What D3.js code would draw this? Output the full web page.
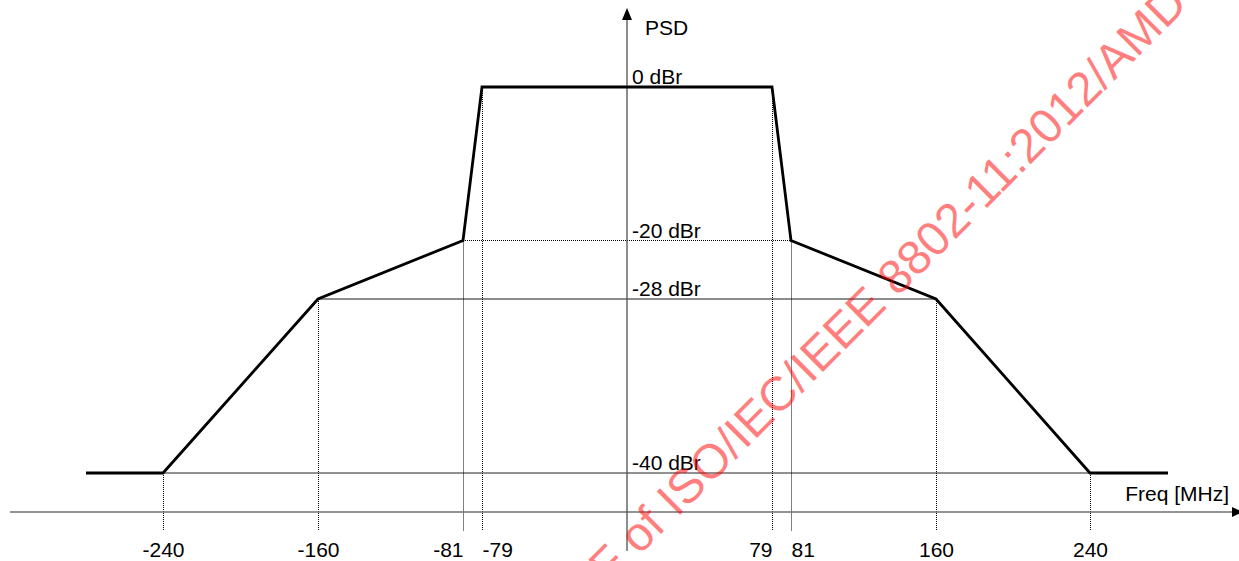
<!DOCTYPE html>
<html>
<head>
<meta charset="utf-8">
<script src="https://cdn.jsdelivr.net/npm/d3@7"></script>
<style>
    body { margin: 0; background: #fff; }
    text { font-family: "Liberation Sans", Arial, sans-serif; font-size: 21px; fill: #000; }
</style>
</head>
<body>
<div class="chart"></div>
<script>
// spectral mask corner points
const maskFreqs = [-280, -240, -160, -81, -79, 79, 81, 160, 240, 280]
const maskLevels = [-40, -40, -28, -20, 0, 0, -20, -28, -40, -40]
const freqTicks = [-240, -160, -81, -79, 79, 81, 160, 240]
const levelTicks = [0, -20, -28, -40]
const levelLabels = ["0 dBr", "-20 dBr", "-28 dBr", "-40 dBr"]

const width = 1239,
    height = 561

const svg = d3.select(".chart")
    .append("svg")
    .attr("width", width)
    .attr("height", height)

// drawing is schematic, so both scales are piecewise
const x = d3.scaleLinear()
    .domain([-280, -240, -160, -81, -79, 0, 79, 81, 160, 240, 280])
    .range([86, 163, 318, 463, 482, 627, 772, 791, 936, 1090, 1168])
const y = d3.scaleLinear()
    .domain([-40, -28, -20, 0])
    .range([473, 299, 240.5, 87])

const xAxisY = 512,
    dropTo = 531

const levelAt = f => maskLevels[maskFreqs.indexOf(f)]

// reference lines at -40, -28 and -20 dBr
svg.append("line")
    .attr("x1", x(-240)).attr("x2", x(240))
    .attr("y1", y(-40)).attr("y2", y(-40))
    .attr("stroke", "#222").attr("stroke-width", 1)
svg.append("line")
    .attr("x1", x(-160)).attr("x2", x(160))
    .attr("y1", y(-28)).attr("y2", y(-28))
    .attr("stroke", "#666").attr("stroke-width", 1.3)
svg.append("line")
    .attr("x1", x(-81)).attr("x2", x(81))
    .attr("y1", y(-20)).attr("y2", y(-20))
    .attr("stroke", "#000").attr("stroke-width", 1)
    .attr("stroke-dasharray", "1,1")

// dotted drops from each corner
svg.selectAll(".drop")
    .data(freqTicks)
    .enter().append("line")
    .attr("class", "drop")
    .attr("x1", d => Math.round(x(d)) + 0.5).attr("x2", d => Math.round(x(d)) + 0.5)
    .attr("y1", d => y(levelAt(d))).attr("y2", dropTo)
    .attr("stroke", "#000").attr("stroke-width", 1)
    .attr("stroke-dasharray", "1,1")

// axes
svg.append("line")
    .attr("x1", 10).attr("x2", 1234)
    .attr("y1", xAxisY).attr("y2", xAxisY)
    .attr("stroke", "#707070").attr("stroke-width", 1.5)
svg.append("path")
    .attr("d", `M1232,${xAxisY - 5}L1243,${xAxisY}L1232,${xAxisY + 5}Z`)
    .attr("fill", "#000")

svg.append("line")
    .attr("x1", x(0)).attr("x2", x(0))
    .attr("y1", 18).attr("y2", 551)
    .attr("stroke", "#505050").attr("stroke-width", 1.3)
svg.append("path")
    .attr("d", `M${x(0) - 5},20L${x(0)},8L${x(0) + 5},20Z`)
    .attr("fill", "#000")

// frequency tick labels
const xAxis = d3.axisBottom(x)
    .tickValues(freqTicks)
    .tickFormat(d => String(d))
    .tickSize(0)
    .tickPadding(0)
const gx = svg.append("g")
    .attr("transform", `translate(0,${557})`)
    .call(xAxis)
gx.select(".domain").remove()
gx.selectAll("text")
    .attr("y", 0).attr("dy", 0)
    .attr("fill", "#000")
    .attr("text-anchor", d => d === -81 || d === 79 ? "end" : (d === -79 || d === 81 ? "start" : "middle"))

// level labels
svg.selectAll(".level")
    .data(levelTicks)
    .enter().append("text")
    .attr("class", "level")
    .attr("x", x(0) + 5)
    .attr("y", d => y(d) - 3)
    .text((d, i) => levelLabels[i])

svg.append("text")
    .attr("x", x(0) + 18)
    .attr("y", 35)
    .text("PSD")
svg.append("text")
    .attr("x", 1229)
    .attr("y", 501)
    .attr("text-anchor", "end")
    .text("Freq [MHz]")

// the mask
const line = d3.line()
    .x(d => x(d[0]))
    .y(d => y(d[1]))
svg.append("path")
    .datum(d3.zip(maskFreqs, maskLevels))
    .attr("d", line)
    .attr("fill", "none")
    .attr("stroke", "#000")
    .attr("stroke-width", 2.8)
    .attr("stroke-linejoin", "miter")

// watermark
svg.append("text")
    .attr("transform", "translate(609,586) rotate(-45)")
    .style("font-size", "48px")
    .style("fill", "#ff0000")
    .style("fill-opacity", 0.5)
    .text("F of ISO/IEC/IEEE 8802-11:2012/AMD")
</script>
</body>
</html>
